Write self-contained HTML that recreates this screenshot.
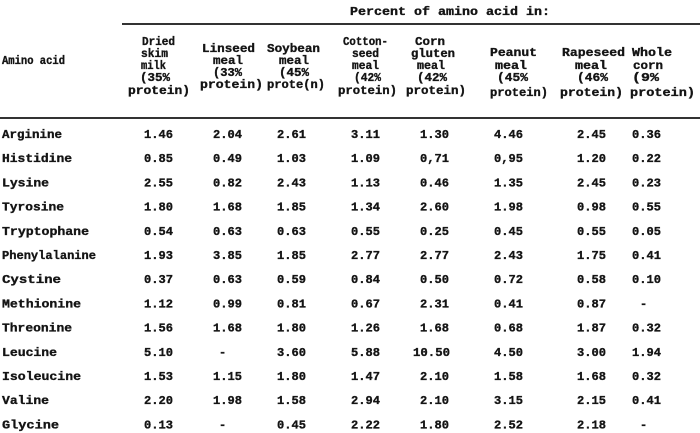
<!DOCTYPE html>
<html>
<head>
<meta charset="utf-8">
<style>
html,body{margin:0;padding:0;background:#fff;}
svg{display:block;}
text{font-family:"Liberation Mono","DejaVu Sans Mono",monospace;font-weight:bold;font-size:12px;fill:#141414;stroke:#141414;stroke-width:0.35px;}
</style>
</head>
<body>
<svg width="700" height="433" viewBox="0 0 700 433" xmlns="http://www.w3.org/2000/svg">
<rect width="700" height="433" fill="#fff"/>
<!-- title -->
<text x="350" y="15" textLength="200" lengthAdjust="spacingAndGlyphs">Percent of amino acid in:</text>
<line x1="122" y1="24" x2="700" y2="24" stroke="#161616" stroke-width="1.7"/>
<line x1="0" y1="118" x2="700" y2="118" stroke="#161616" stroke-width="1.7"/>

<text x="2" y="64" textLength="63" lengthAdjust="spacingAndGlyphs">Amino acid</text>

<!-- col1 -->
<text x="142" y="45" textLength="33" lengthAdjust="spacingAndGlyphs">Dried</text>
<text x="141" y="57" textLength="27" lengthAdjust="spacingAndGlyphs">skim</text>
<text x="141" y="69" textLength="25" lengthAdjust="spacingAndGlyphs">milk</text>
<text x="140" y="81" textLength="30" lengthAdjust="spacingAndGlyphs">(35%</text>
<text x="128" y="94" textLength="62" lengthAdjust="spacingAndGlyphs">protein)</text>
<!-- col2 -->
<text x="202" y="52" textLength="53" lengthAdjust="spacingAndGlyphs">Linseed</text>
<text x="213" y="64" textLength="30" lengthAdjust="spacingAndGlyphs">meal</text>
<text x="213" y="76" textLength="29" lengthAdjust="spacingAndGlyphs">(33%</text>
<text x="200" y="88" textLength="63" lengthAdjust="spacingAndGlyphs">protein)</text>
<!-- col3 -->
<text x="267" y="52" textLength="53" lengthAdjust="spacingAndGlyphs">Soybean</text>
<text x="279" y="64" textLength="30" lengthAdjust="spacingAndGlyphs">meal</text>
<text x="279" y="76" textLength="30" lengthAdjust="spacingAndGlyphs">(45%</text>
<text x="267" y="88" textLength="58" lengthAdjust="spacingAndGlyphs">prote(n)</text>
<!-- col4 -->
<text x="343" y="45" textLength="45" lengthAdjust="spacingAndGlyphs">Cotton-</text>
<text x="352" y="57" textLength="27" lengthAdjust="spacingAndGlyphs">seed</text>
<text x="352" y="69" textLength="27" lengthAdjust="spacingAndGlyphs">meal</text>
<text x="354" y="81" textLength="27" lengthAdjust="spacingAndGlyphs">(42%</text>
<text x="338" y="94" textLength="59" lengthAdjust="spacingAndGlyphs">protein)</text>
<!-- col5 -->
<text x="415" y="45" textLength="30" lengthAdjust="spacingAndGlyphs">Corn</text>
<text x="411" y="57" textLength="44" lengthAdjust="spacingAndGlyphs">gluten</text>
<text x="417" y="69" textLength="28" lengthAdjust="spacingAndGlyphs">meal</text>
<text x="417" y="81" textLength="30" lengthAdjust="spacingAndGlyphs">(42%</text>
<text x="406" y="94" textLength="60" lengthAdjust="spacingAndGlyphs">protein)</text>
<!-- col6 -->
<text x="490" y="56" textLength="47" lengthAdjust="spacingAndGlyphs">Peanut</text>
<text x="495" y="69" textLength="32" lengthAdjust="spacingAndGlyphs">meal</text>
<text x="497" y="81" textLength="31" lengthAdjust="spacingAndGlyphs">(45%</text>
<text x="490" y="96" textLength="58" lengthAdjust="spacingAndGlyphs">protein)</text>
<!-- col7 -->
<text x="562" y="56" textLength="63" lengthAdjust="spacingAndGlyphs">Rapeseed</text>
<text x="575" y="69" textLength="32" lengthAdjust="spacingAndGlyphs">meal</text>
<text x="577" y="81" textLength="31" lengthAdjust="spacingAndGlyphs">(46%</text>
<text x="560" y="96" textLength="63" lengthAdjust="spacingAndGlyphs">protein)</text>
<!-- col8 -->
<text x="632" y="56" textLength="40" lengthAdjust="spacingAndGlyphs">Whole</text>
<text x="633" y="69" textLength="30" lengthAdjust="spacingAndGlyphs">corn</text>
<text x="632" y="81" textLength="27" lengthAdjust="spacingAndGlyphs">(9%</text>
<text x="630" y="96" textLength="65" lengthAdjust="spacingAndGlyphs">protein)</text>

<!-- row labels -->
<text x="2" y="138.0" textLength="60" lengthAdjust="spacingAndGlyphs">Arginine</text>
<text x="2" y="162.2" textLength="70" lengthAdjust="spacingAndGlyphs">Histidine</text>
<text x="2" y="186.4" textLength="47" lengthAdjust="spacingAndGlyphs">Lysine</text>
<text x="2" y="210.6" textLength="62" lengthAdjust="spacingAndGlyphs">Tyrosine</text>
<text x="2" y="234.8" textLength="87" lengthAdjust="spacingAndGlyphs">Tryptophane</text>
<text x="2" y="259.0" textLength="94" lengthAdjust="spacingAndGlyphs">Phenylalanine</text>
<text x="2" y="283.2" textLength="59" lengthAdjust="spacingAndGlyphs">Cystine</text>
<text x="2" y="307.4" textLength="79" lengthAdjust="spacingAndGlyphs">Methionine</text>
<text x="2" y="331.6" textLength="70" lengthAdjust="spacingAndGlyphs">Threonine</text>
<text x="2" y="355.8" textLength="55" lengthAdjust="spacingAndGlyphs">Leucine</text>
<text x="2" y="380.0" textLength="79" lengthAdjust="spacingAndGlyphs">Isoleucine</text>
<text x="2" y="404.2" textLength="47" lengthAdjust="spacingAndGlyphs">Valine</text>
<text x="2" y="428.4" textLength="57" lengthAdjust="spacingAndGlyphs">Glycine</text>

<!-- data rows -->
<g>
<text x="144" y="138.0" textLength="29" lengthAdjust="spacingAndGlyphs">1.46</text>
<text x="213" y="138.0" textLength="29" lengthAdjust="spacingAndGlyphs">2.04</text>
<text x="277" y="138.0" textLength="29" lengthAdjust="spacingAndGlyphs">2.61</text>
<text x="351" y="138.0" textLength="29" lengthAdjust="spacingAndGlyphs">3.11</text>
<text x="420" y="138.0" textLength="29" lengthAdjust="spacingAndGlyphs">1.30</text>
<text x="494" y="138.0" textLength="29" lengthAdjust="spacingAndGlyphs">4.46</text>
<text x="577" y="138.0" textLength="29" lengthAdjust="spacingAndGlyphs">2.45</text>
<text x="632" y="138.0" textLength="29" lengthAdjust="spacingAndGlyphs">0.36</text>
</g>
<g>
<text x="144" y="162.2" textLength="29" lengthAdjust="spacingAndGlyphs">0.85</text>
<text x="213" y="162.2" textLength="29" lengthAdjust="spacingAndGlyphs">0.49</text>
<text x="277" y="162.2" textLength="29" lengthAdjust="spacingAndGlyphs">1.03</text>
<text x="351" y="162.2" textLength="29" lengthAdjust="spacingAndGlyphs">1.09</text>
<text x="420" y="162.2" textLength="29" lengthAdjust="spacingAndGlyphs">0,71</text>
<text x="494" y="162.2" textLength="29" lengthAdjust="spacingAndGlyphs">0,95</text>
<text x="577" y="162.2" textLength="29" lengthAdjust="spacingAndGlyphs">1.20</text>
<text x="632" y="162.2" textLength="29" lengthAdjust="spacingAndGlyphs">0.22</text>
</g>
<g>
<text x="144" y="186.4" textLength="29" lengthAdjust="spacingAndGlyphs">2.55</text>
<text x="213" y="186.4" textLength="29" lengthAdjust="spacingAndGlyphs">0.82</text>
<text x="277" y="186.4" textLength="29" lengthAdjust="spacingAndGlyphs">2.43</text>
<text x="351" y="186.4" textLength="29" lengthAdjust="spacingAndGlyphs">1.13</text>
<text x="420" y="186.4" textLength="29" lengthAdjust="spacingAndGlyphs">0.46</text>
<text x="494" y="186.4" textLength="29" lengthAdjust="spacingAndGlyphs">1.35</text>
<text x="577" y="186.4" textLength="29" lengthAdjust="spacingAndGlyphs">2.45</text>
<text x="632" y="186.4" textLength="29" lengthAdjust="spacingAndGlyphs">0.23</text>
</g>
<g>
<text x="144" y="210.6" textLength="29" lengthAdjust="spacingAndGlyphs">1.80</text>
<text x="213" y="210.6" textLength="29" lengthAdjust="spacingAndGlyphs">1.68</text>
<text x="277" y="210.6" textLength="29" lengthAdjust="spacingAndGlyphs">1.85</text>
<text x="351" y="210.6" textLength="29" lengthAdjust="spacingAndGlyphs">1.34</text>
<text x="420" y="210.6" textLength="29" lengthAdjust="spacingAndGlyphs">2.60</text>
<text x="494" y="210.6" textLength="29" lengthAdjust="spacingAndGlyphs">1.98</text>
<text x="577" y="210.6" textLength="29" lengthAdjust="spacingAndGlyphs">0.98</text>
<text x="632" y="210.6" textLength="29" lengthAdjust="spacingAndGlyphs">0.55</text>
</g>
<g>
<text x="144" y="234.8" textLength="29" lengthAdjust="spacingAndGlyphs">0.54</text>
<text x="213" y="234.8" textLength="29" lengthAdjust="spacingAndGlyphs">0.63</text>
<text x="277" y="234.8" textLength="29" lengthAdjust="spacingAndGlyphs">0.63</text>
<text x="351" y="234.8" textLength="29" lengthAdjust="spacingAndGlyphs">0.55</text>
<text x="420" y="234.8" textLength="29" lengthAdjust="spacingAndGlyphs">0.25</text>
<text x="494" y="234.8" textLength="29" lengthAdjust="spacingAndGlyphs">0.45</text>
<text x="577" y="234.8" textLength="29" lengthAdjust="spacingAndGlyphs">0.55</text>
<text x="632" y="234.8" textLength="29" lengthAdjust="spacingAndGlyphs">0.05</text>
</g>
<g>
<text x="144" y="259.0" textLength="29" lengthAdjust="spacingAndGlyphs">1.93</text>
<text x="213" y="259.0" textLength="29" lengthAdjust="spacingAndGlyphs">3.85</text>
<text x="277" y="259.0" textLength="29" lengthAdjust="spacingAndGlyphs">1.85</text>
<text x="351" y="259.0" textLength="29" lengthAdjust="spacingAndGlyphs">2.77</text>
<text x="420" y="259.0" textLength="29" lengthAdjust="spacingAndGlyphs">2.77</text>
<text x="494" y="259.0" textLength="29" lengthAdjust="spacingAndGlyphs">2.43</text>
<text x="577" y="259.0" textLength="29" lengthAdjust="spacingAndGlyphs">1.75</text>
<text x="632" y="259.0" textLength="29" lengthAdjust="spacingAndGlyphs">0.41</text>
</g>
<g>
<text x="144" y="283.2" textLength="29" lengthAdjust="spacingAndGlyphs">0.37</text>
<text x="213" y="283.2" textLength="29" lengthAdjust="spacingAndGlyphs">0.63</text>
<text x="277" y="283.2" textLength="29" lengthAdjust="spacingAndGlyphs">0.59</text>
<text x="351" y="283.2" textLength="29" lengthAdjust="spacingAndGlyphs">0.84</text>
<text x="420" y="283.2" textLength="29" lengthAdjust="spacingAndGlyphs">0.50</text>
<text x="494" y="283.2" textLength="29" lengthAdjust="spacingAndGlyphs">0.72</text>
<text x="577" y="283.2" textLength="29" lengthAdjust="spacingAndGlyphs">0.58</text>
<text x="632" y="283.2" textLength="29" lengthAdjust="spacingAndGlyphs">0.10</text>
</g>
<g>
<text x="144" y="307.4" textLength="29" lengthAdjust="spacingAndGlyphs">1.12</text>
<text x="213" y="307.4" textLength="29" lengthAdjust="spacingAndGlyphs">0.99</text>
<text x="277" y="307.4" textLength="29" lengthAdjust="spacingAndGlyphs">0.81</text>
<text x="351" y="307.4" textLength="29" lengthAdjust="spacingAndGlyphs">0.67</text>
<text x="420" y="307.4" textLength="29" lengthAdjust="spacingAndGlyphs">2.31</text>
<text x="494" y="307.4" textLength="29" lengthAdjust="spacingAndGlyphs">0.41</text>
<text x="577" y="307.4" textLength="29" lengthAdjust="spacingAndGlyphs">0.87</text>
<text x="640" y="307.4">-</text>
</g>
<g>
<text x="144" y="331.6" textLength="29" lengthAdjust="spacingAndGlyphs">1.56</text>
<text x="213" y="331.6" textLength="29" lengthAdjust="spacingAndGlyphs">1.68</text>
<text x="277" y="331.6" textLength="29" lengthAdjust="spacingAndGlyphs">1.80</text>
<text x="351" y="331.6" textLength="29" lengthAdjust="spacingAndGlyphs">1.26</text>
<text x="420" y="331.6" textLength="29" lengthAdjust="spacingAndGlyphs">1.68</text>
<text x="494" y="331.6" textLength="29" lengthAdjust="spacingAndGlyphs">0.68</text>
<text x="577" y="331.6" textLength="29" lengthAdjust="spacingAndGlyphs">1.87</text>
<text x="632" y="331.6" textLength="29" lengthAdjust="spacingAndGlyphs">0.32</text>
</g>
<g>
<text x="144" y="355.8" textLength="29" lengthAdjust="spacingAndGlyphs">5.10</text>
<text x="219" y="355.8">-</text>
<text x="277" y="355.8" textLength="29" lengthAdjust="spacingAndGlyphs">3.60</text>
<text x="351" y="355.8" textLength="29" lengthAdjust="spacingAndGlyphs">5.88</text>
<text x="413" y="355.8" textLength="37" lengthAdjust="spacingAndGlyphs">10.50</text>
<text x="494" y="355.8" textLength="29" lengthAdjust="spacingAndGlyphs">4.50</text>
<text x="577" y="355.8" textLength="29" lengthAdjust="spacingAndGlyphs">3.00</text>
<text x="632" y="355.8" textLength="29" lengthAdjust="spacingAndGlyphs">1.94</text>
</g>
<g>
<text x="144" y="380.0" textLength="29" lengthAdjust="spacingAndGlyphs">1.53</text>
<text x="213" y="380.0" textLength="29" lengthAdjust="spacingAndGlyphs">1.15</text>
<text x="277" y="380.0" textLength="29" lengthAdjust="spacingAndGlyphs">1.80</text>
<text x="351" y="380.0" textLength="29" lengthAdjust="spacingAndGlyphs">1.47</text>
<text x="420" y="380.0" textLength="29" lengthAdjust="spacingAndGlyphs">2.10</text>
<text x="494" y="380.0" textLength="29" lengthAdjust="spacingAndGlyphs">1.58</text>
<text x="577" y="380.0" textLength="29" lengthAdjust="spacingAndGlyphs">1.68</text>
<text x="632" y="380.0" textLength="29" lengthAdjust="spacingAndGlyphs">0.32</text>
</g>
<g>
<text x="144" y="404.2" textLength="29" lengthAdjust="spacingAndGlyphs">2.20</text>
<text x="213" y="404.2" textLength="29" lengthAdjust="spacingAndGlyphs">1.98</text>
<text x="277" y="404.2" textLength="29" lengthAdjust="spacingAndGlyphs">1.58</text>
<text x="351" y="404.2" textLength="29" lengthAdjust="spacingAndGlyphs">2.94</text>
<text x="420" y="404.2" textLength="29" lengthAdjust="spacingAndGlyphs">2.10</text>
<text x="494" y="404.2" textLength="29" lengthAdjust="spacingAndGlyphs">3.15</text>
<text x="577" y="404.2" textLength="29" lengthAdjust="spacingAndGlyphs">2.15</text>
<text x="632" y="404.2" textLength="29" lengthAdjust="spacingAndGlyphs">0.41</text>
</g>
<g>
<text x="144" y="428.4" textLength="29" lengthAdjust="spacingAndGlyphs">0.13</text>
<text x="219" y="428.4">-</text>
<text x="277" y="428.4" textLength="29" lengthAdjust="spacingAndGlyphs">0.45</text>
<text x="351" y="428.4" textLength="29" lengthAdjust="spacingAndGlyphs">2.22</text>
<text x="420" y="428.4" textLength="29" lengthAdjust="spacingAndGlyphs">1.80</text>
<text x="494" y="428.4" textLength="29" lengthAdjust="spacingAndGlyphs">2.52</text>
<text x="577" y="428.4" textLength="29" lengthAdjust="spacingAndGlyphs">2.18</text>
<text x="640" y="428.4">-</text>
</g>
</svg>
</body>
</html>
